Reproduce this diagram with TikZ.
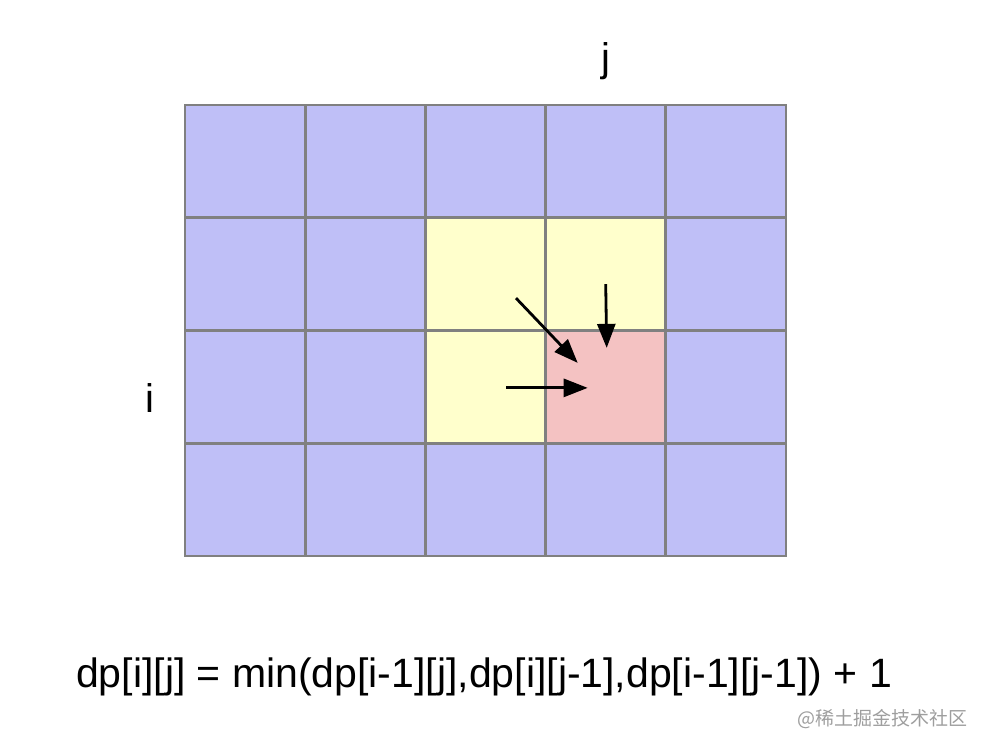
\documentclass[tikz,border=0pt]{standalone}
\usepackage{fontspec}
\setmainfont{Liberation Sans}
\newfontfamily\cjk{Noto Sans CJK SC}
\usetikzlibrary{arrows.meta,positioning}
\definecolor{cellblue}{RGB}{191,191,247}
\definecolor{cellyellow}{RGB}{255,255,204}
\definecolor{cellpink}{RGB}{244,194,194}
\definecolor{gridgray}{RGB}{128,128,128}
\tikzset{
  cell/.style={draw=gridgray, line width=2.8pt, minimum width=120.2pt, minimum height=112.75pt, inner sep=0pt},
  lbl/.style={font=\fontsize{40}{48}\selectfont, inner sep=0pt},
  arrow/.style={line width=2.8pt, -{Triangle[length=24pt,width=18pt]}}
}

\begin{document}
\begin{tikzpicture}[x=1pt, y=-1pt]
			%%%%% START %%%%%
			\useasboundingbox (0, 0) rectangle (990, 750);
			
			\foreach \r in {1,...,4}{
				\foreach \c in {1,...,5}{
					\def\cellcol{cellblue}
					\ifnum\r>1 \ifnum\r<4 \ifnum\c>2 \ifnum\c<5 \def\cellcol{cellyellow}\fi\fi\fi\fi
					\ifnum\r=3 \ifnum\c=4 \def\cellcol{cellpink}\fi\fi
					\node[cell, fill=\cellcol] (c\r\c) at ({185+120.2*(\c-0.5)}, {105+112.75*(\r-0.5)}) {};
				}
			}
			
			\node[lbl, anchor=base] (j) at ([yshift=32pt]c14.north) {j};
			\node[lbl, anchor=base] (i) at ([xshift=-34pt, yshift=-26pt]c31.west) {i};
			
			\coordinate (diagstart) at ([shift={(30.5, 24)}]c23.center);
			\coordinate (diagend) at ([shift={(-28, -24)}]c34.center);
			\coordinate (upstart) at ([shift={(0, 10)}]c24.center);
			\coordinate (upend) at ([shift={(1, -39)}]c34.center);
			\coordinate (leftstart) at ([shift={(20.5, 1)}]c33.center);
			\coordinate (leftend) at ([shift={(-18, 1)}]c34.center);
			
			\draw[arrow] (diagstart) -- (diagend);
			\draw[arrow] (upstart) -- (upend);
			\draw[arrow] (leftstart) -- (leftend);
			
			\node[lbl, font=\fontsize{41}{48}\selectfont, anchor=base] (eq) at (484, 687) {dp[i][j] = min(dp[i-1][j],dp[i][j-1],dp[i-1][j-1]) + 1};
			
			\node[anchor=east, inner sep=0pt, text=black!38, font=\cjk\fontsize{19}{22}\selectfont] (mark) at (968, 719) {@稀土掘金技术社区};
			%%%%% END %%%%%
\end{tikzpicture}
\end{document}
